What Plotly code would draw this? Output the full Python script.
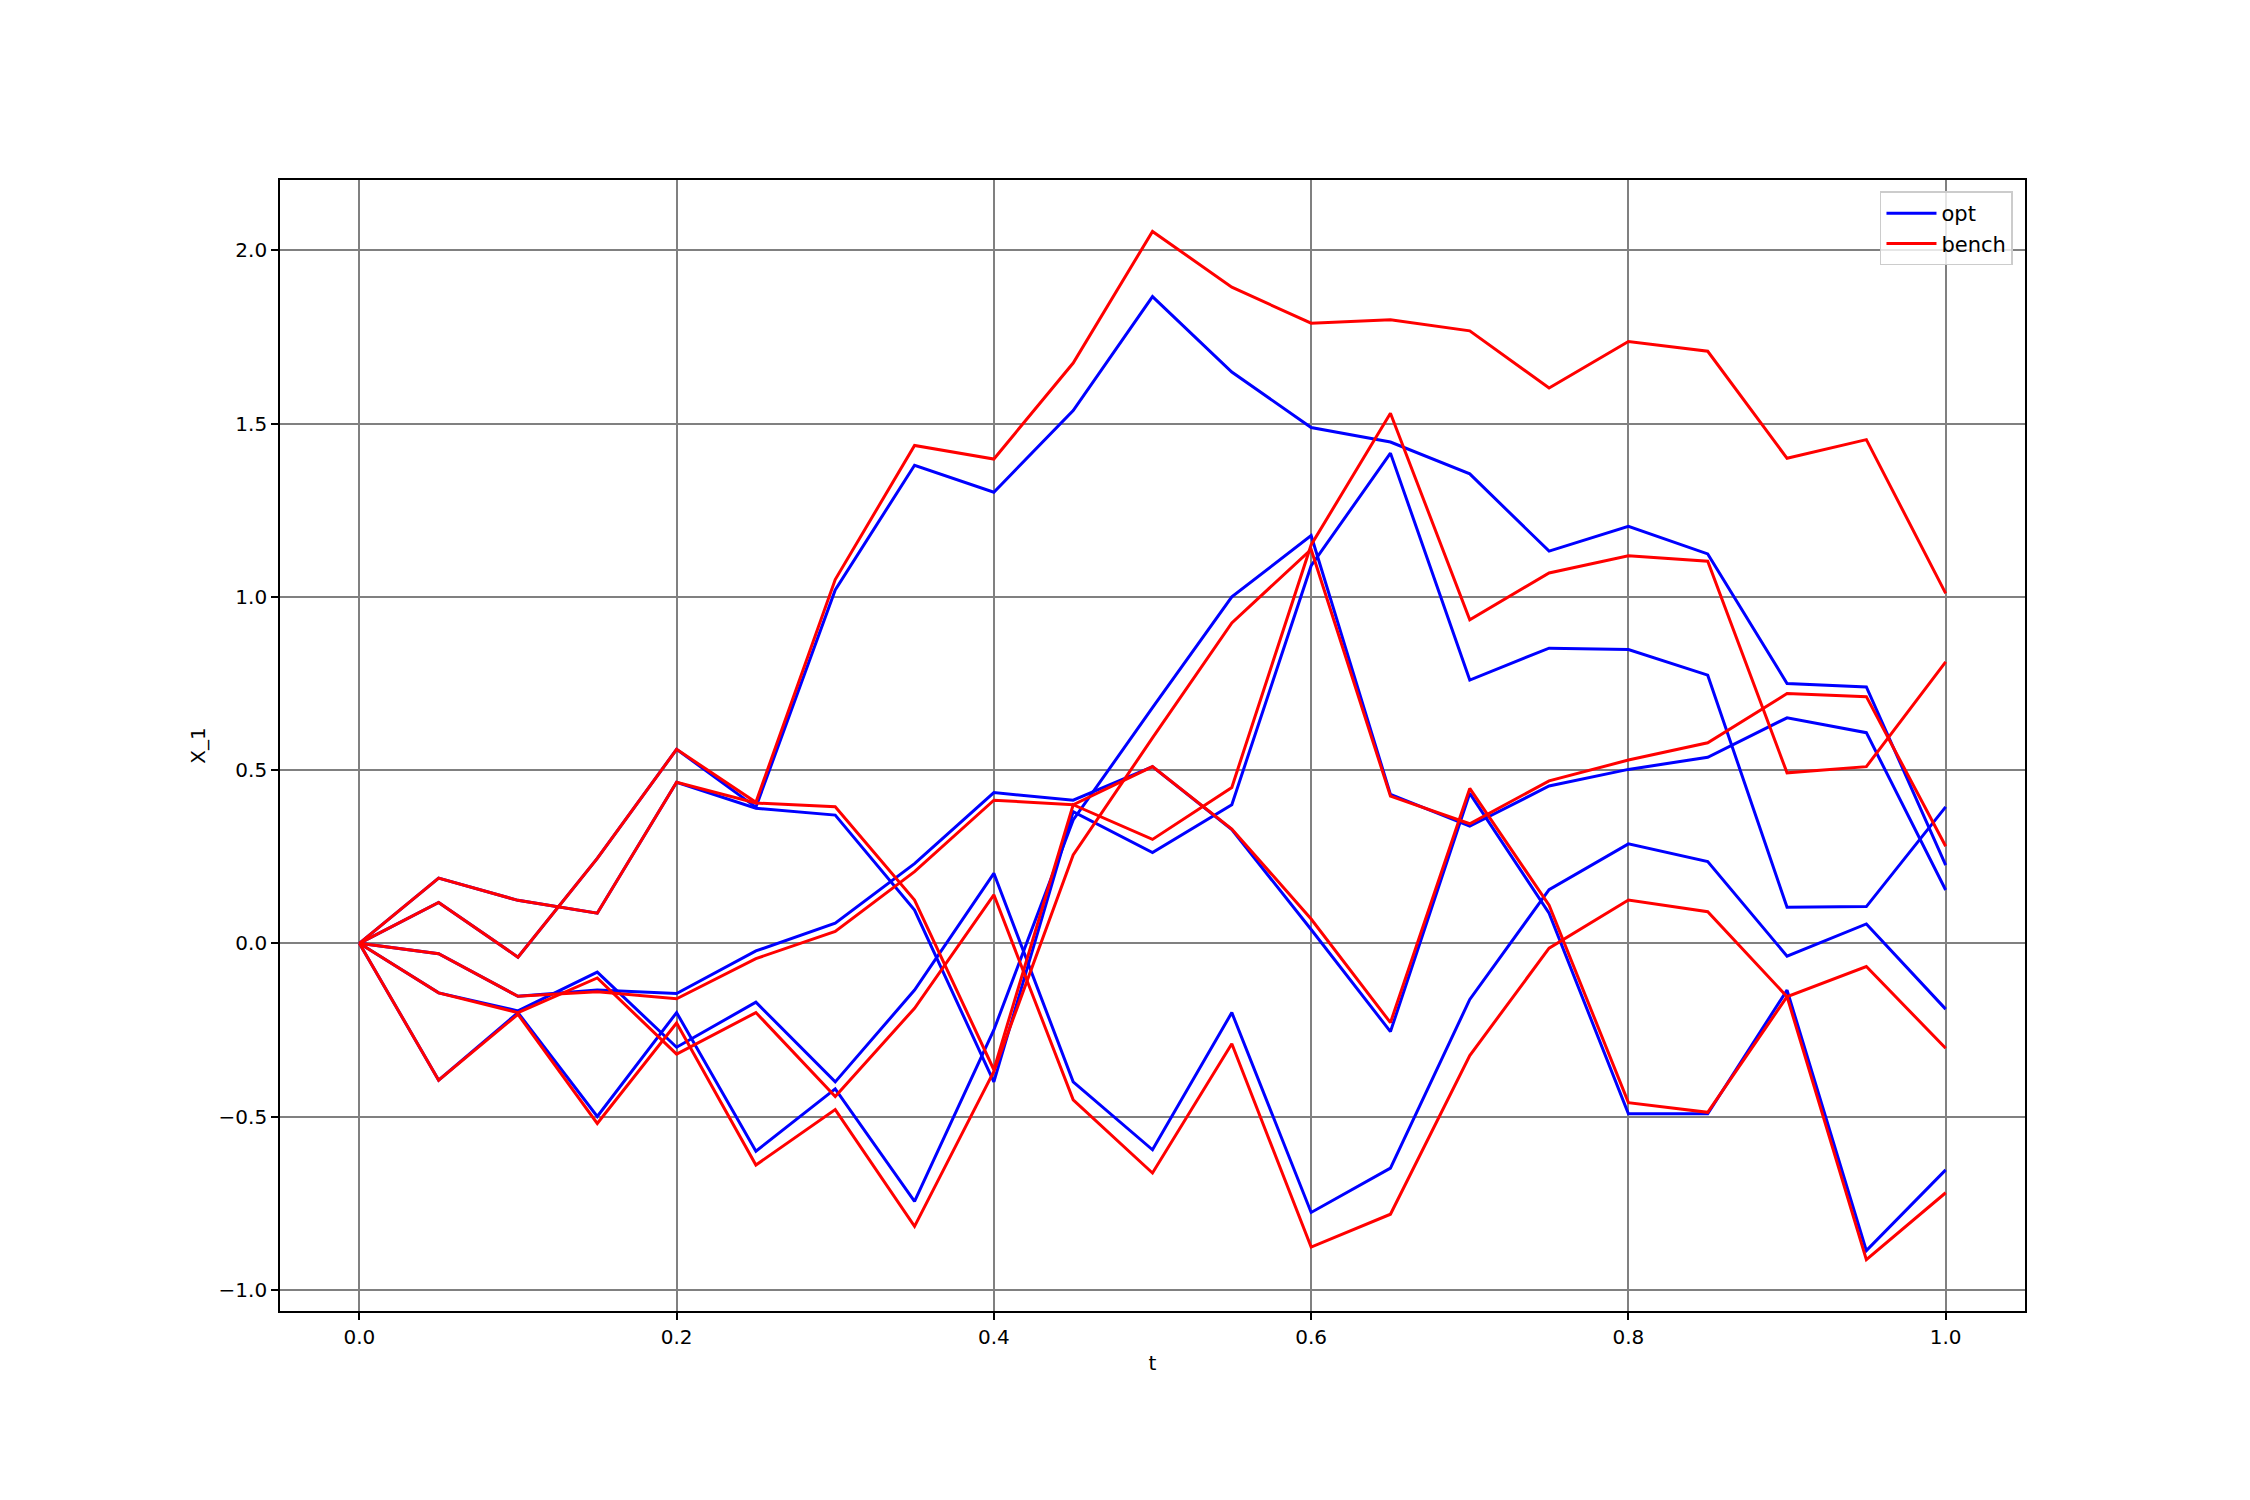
import plotly.graph_objects as go
import numpy as np

t = [0.0, 0.05, 0.1, 0.15, 0.2, 0.25, 0.3, 0.35, 0.4, 0.45, 0.5,
     0.55, 0.6, 0.65, 0.7, 0.75, 0.8, 0.85, 0.9, 0.95, 1.0]

# opt paths (blue)
opt_a = [0, 0.118, -0.04, 0.245, 0.56, 0.393, 1.02, 1.38, 1.302, 1.538, 1.867,
         1.649, 1.489, 1.447, 1.355, 1.132, 1.204, 1.124, 0.75, 0.74, 0.226]
opt_b = [0, 0.188, 0.124, 0.087, 0.465, 0.39, 0.37, 0.096, -0.40, 0.38, 0.262,
         0.40, 1.09, 1.415, 0.76, 0.852, 0.848, 0.774, 0.104, 0.106, 0.394]
opt_c = [0, -0.395, -0.20, -0.50, -0.20, -0.60, -0.42, -0.745, -0.25, 0.356, 0.68,
         1.0, 1.177, 0.43, 0.338, 0.454, 0.502, 0.537, 0.651, 0.608, 0.154]
opt_d = [0, -0.03, -0.153, -0.135, -0.145, -0.022, 0.058, 0.23, 0.435, 0.413, 0.51,
         0.328, 0.04, -0.255, 0.433, 0.087, -0.492, -0.492, -0.135, -0.887, -0.654]
opt_e = [0, -0.143, -0.195, -0.083, -0.30, -0.17, -0.40, -0.135, 0.202, -0.40, -0.596,
         -0.20, -0.777, -0.649, -0.162, 0.155, 0.287, 0.236, -0.037, 0.056, -0.19]

# bench paths (red)
bench_a = [0, 0.118, -0.04, 0.245, 0.56, 0.407, 1.05, 1.437, 1.398, 1.675, 2.055,
           1.894, 1.79, 1.80, 1.768, 1.603, 1.737, 1.709, 1.40, 1.454, 1.01]
bench_b = [0, 0.188, 0.124, 0.087, 0.465, 0.405, 0.394, 0.125, -0.365, 0.40, 0.30,
           0.45, 1.15, 1.53, 0.934, 1.069, 1.119, 1.103, 0.492, 0.51, 0.8125]
bench_c = [0, -0.395, -0.205, -0.52, -0.23, -0.64, -0.48, -0.817, -0.37, 0.255, 0.593,
           0.925, 1.137, 0.425, 0.345, 0.469, 0.529, 0.579, 0.721, 0.712, 0.28]
bench_d = [0, -0.03, -0.153, -0.14, -0.16, -0.044, 0.034, 0.207, 0.413, 0.40, 0.51,
           0.33, 0.07, -0.229, 0.447, 0.11, -0.46, -0.488, -0.154, -0.913, -0.72]
bench_e = [0, -0.143, -0.20, -0.10, -0.32, -0.20, -0.442, -0.1875, 0.14, -0.452, -0.663,
           -0.29, -0.877, -0.782, -0.324, -0.014, 0.125, 0.091, -0.154, -0.067, -0.303]

opt_paths = [opt_a, opt_b, opt_c, opt_d, opt_e]
bench_paths = [bench_a, bench_b, bench_c, bench_d, bench_e]

x_ticks = [0.0, 0.2, 0.4, 0.6, 0.8, 1.0]
y_ticks = [-1.0, -0.5, 0.0, 0.5, 1.0, 1.5, 2.0]

FONT = "DejaVu Sans"
fig = go.Figure()

for i, p in enumerate(opt_paths):
    fig.add_trace(go.Scatter(x=t, y=p, mode="lines", name="opt",
                             line=dict(color="#0000ff", width=3),
                             showlegend=(i == 0), legendgroup="opt"))
for i, p in enumerate(bench_paths):
    fig.add_trace(go.Scatter(x=t, y=p, mode="lines", name="bench",
                             line=dict(color="#ff0000", width=3),
                             showlegend=(i == 0), legendgroup="bench"))

allv = np.concatenate([np.array(p) for p in opt_paths + bench_paths])
vmin, vmax = allv.min(), allv.max()
pad = 0.05 * (vmax - vmin)
tpad = 0.05 * (max(t) - min(t))

axis_common = dict(
    showline=True, mirror=True, linecolor="black", linewidth=1.7,
    showgrid=True, gridcolor="#808080", gridwidth=1.7,
    zeroline=False, ticks="outside", ticklen=7, tickwidth=1.7,
    tickcolor="black", tickfont=dict(family=FONT, size=20, color="black"),
    tickformat=".1f",
)

fig.update_layout(
    width=2250, height=1500,
    paper_bgcolor="white", plot_bgcolor="white",
    margin=dict(l=280, r=225, t=180, b=189),
    font=dict(family=FONT, size=20, color="black"),
    xaxis=dict(range=[min(t) - tpad, max(t) + tpad], tickvals=x_ticks,
               title=dict(text="t", font=dict(family=FONT, size=20), standoff=8),
               **axis_common),
    yaxis=dict(range=[vmin - pad, vmax + pad], tickvals=y_ticks,
               title=dict(text="X_1", font=dict(family=FONT, size=20), standoff=8),
               **axis_common),
    legend=dict(x=0.993, y=0.99, xanchor="right", yanchor="top",
                bgcolor="rgba(255,255,255,0.8)", bordercolor="#cccccc",
                borderwidth=1.7, font=dict(family=FONT, size=21),
                itemwidth=50, tracegroupgap=0),
)

fig.write_html("out.html")
